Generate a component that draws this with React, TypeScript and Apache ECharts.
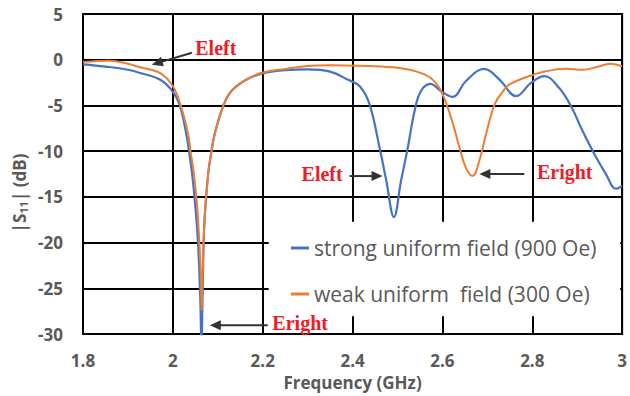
import React, { useEffect, useRef } from "react";
import * as echarts from "echarts";

const seriesNames = ["strong uniform field (900 Oe)", "weak uniform  field (300 Oe)"];
const seriesColors = ["#4472C4", "#ED7D31"];

const strongFreq = [1.8, 1.85, 1.9, 1.927, 1.971, 2.0, 2.016, 2.03, 2.036, 2.043, 2.05, 2.056, 2.061, 2.0635, 2.0665, 2.07, 2.0785, 2.086, 2.093, 2.112, 2.13, 2.164, 2.2, 2.25, 2.3, 2.35, 2.39, 2.416, 2.438, 2.46, 2.475, 2.492, 2.508, 2.523, 2.538, 2.552, 2.573, 2.597, 2.623, 2.652, 2.693, 2.727, 2.764, 2.797, 2.827, 2.86, 2.886, 2.912, 2.938, 2.964, 2.986, 3.0];
const strongS11 = [-0.5, -0.75, -1.1, -1.45, -2.17, -3.5, -5.07, -8.15, -10, -12.5, -16, -20, -26, -31, -25, -18, -12.5, -10, -8.15, -5.07, -3.44, -2.17, -1.5, -1.15, -1.05, -1.3, -2.2, -2.9, -4.9, -9.6, -13.2, -17.2, -13.2, -9.6, -5.6, -3.44, -2.65, -3.44, -4.06, -2.35, -1.0, -2.17, -3.98, -2.54, -1.8, -3.1, -5.07, -7.8, -10.3, -12.5, -14.1, -13.8];

const weakFreq = [1.8, 1.86, 1.9, 1.927, 1.971, 2.0, 2.018, 2.034, 2.0393, 2.047, 2.054, 2.059, 2.0625, 2.064, 2.066, 2.07, 2.0785, 2.086, 2.093, 2.112, 2.13, 2.164, 2.2, 2.25, 2.31, 2.35, 2.416, 2.489, 2.541, 2.574, 2.597, 2.619, 2.638, 2.652, 2.667, 2.682, 2.697, 2.716, 2.734, 2.749, 2.786, 2.83, 2.874, 2.912, 2.949, 2.975, 3.0];
const weakS11 = [-0.25, -0.1, -0.45, -0.83, -1.45, -2.9, -5.07, -8.15, -10, -12.5, -16, -20, -24, -27.4, -24, -18, -12.5, -10, -8.15, -5.07, -3.44, -2.17, -1.4, -1.0, -0.65, -0.6, -0.65, -0.83, -1.27, -2.0, -3.44, -6.3, -9.6, -11.8, -12.7, -11.05, -8.15, -4.9, -3.5, -2.7, -1.92, -1.27, -0.98, -1.1, -0.72, -0.43, -0.72];

const xMin = 1.8;
const xMax = 3.0;
const xStep = 0.2;
const yMin = -30;
const yMax = 5;
const yStep = 5;

const annotationTexts = ["Eleft", "Eleft", "Eright", "Eright"];
const annotationAt = [[2.0956, 1.3], [2.3322, -12.5], [2.8722, -12.28], [2.2833, -28.8]];
const arrowFrom = [[2.0422, 0.76], [2.3933, -12.72], [2.7822, -12.5], [2.2111, -29.02]];
const arrowTo = [[1.9533, -0.54], [2.4667, -12.72], [2.6822, -12.5], [2.0822, -29.02]];

const legendBoxCorner1 = [2.2133, -17.72];
const legendBoxCorner2 = [2.9956, -28.04];

const GRAY = "#595959";
const FONT = "'Open Sans', sans-serif";
const LINE = "#000000";

export default function App() {
  const ref = useRef<HTMLDivElement>(null);
  useEffect(() => {
    if (!ref.current) return;
    const chart = echarts.init(ref.current, undefined, { renderer: "svg" });
    const mk = (fs: number[], vs: number[]) => fs.map((f, i) => [f, vs[i]]);
    chart.setOption({
      animation: false,
      backgroundColor: "#fff",
      grid: {
        left: 83, right: 7, top: 14, bottom: 60,
        show: true, borderColor: LINE, borderWidth: 2, backgroundColor: "transparent",
      },
      xAxis: {
        type: "value", min: xMin, max: xMax, interval: xStep,
        axisLine: { show: true, onZero: false, lineStyle: { color: LINE, width: 2 } },
        axisTick: { show: false },
        splitLine: { show: true, lineStyle: { color: LINE, width: 2, opacity: 1 } },
        axisLabel: {
          margin: 18, color: GRAY, fontFamily: FONT, fontWeight: "bold", fontSize: 17,
          formatter: (v: number) => String(Math.round(v * 10) / 10),
        },
        name: "Frequency (GHz)", nameLocation: "middle", nameGap: 39,
        nameTextStyle: { color: GRAY, fontFamily: FONT, fontWeight: "bold", fontSize: 17 },
      },
      yAxis: {
        type: "value", min: yMin, max: yMax, interval: yStep,
        axisLine: { show: true, onZero: false, lineStyle: { color: LINE, width: 2 } },
        axisTick: { show: false },
        splitLine: { show: true, lineStyle: { color: LINE, width: 2, opacity: 1 } },
        axisLabel: { margin: 20, color: GRAY, fontFamily: FONT, fontWeight: "bold", fontSize: 17 },
      },
      legend: {
        orient: "vertical", left: 286, top: 232, itemWidth: 18, itemHeight: 3, itemGap: 24,
        icon: "rect", z: 10,
        textStyle: { fontFamily: FONT, fontSize: 21, color: GRAY, lineHeight: 22 },
        data: seriesNames,
      },
      series: [
        {
          name: seriesNames[0], type: "line", data: mk(strongFreq, strongS11),
          showSymbol: false, symbol: "none", smooth: 0.4,
          lineStyle: { color: seriesColors[0], width: 2.2 }, itemStyle: { color: seriesColors[0] },
        },
        {
          name: seriesNames[1], type: "line", data: mk(weakFreq, weakS11),
          showSymbol: false, symbol: "none", smooth: 0.4,
          lineStyle: { color: seriesColors[1], width: 2 }, itemStyle: { color: seriesColors[1] },
        },
      ],
    });

    const px = (p: number[]) => chart.convertToPixel({ gridIndex: 0 }, p) as number[];
    const graphics: any[] = [];
    const c1 = px(legendBoxCorner1);
    const c2 = px(legendBoxCorner2);
    graphics.push({
      type: "rect", z: 1, silent: true,
      shape: { x: c1[0], y: c1[1], width: c2[0] - c1[0], height: c2[1] - c1[1] },
      style: { fill: "#fff" },
    });
    graphics.push({
      type: "text", x: 19, y: 193, rotation: Math.PI / 2, z: 5,
      style: {
        text: "|S{sub|11}| (dB)", fill: GRAY, font: `bold 17px ${FONT}`,
        align: "center", verticalAlign: "middle",
        rich: { sub: { fontSize: 11, fontWeight: "bold", fontFamily: FONT, fill: GRAY, verticalAlign: "bottom", padding: [8, 0, 0, 0] } },
      },
    });
    annotationTexts.forEach((t, i) => {
      const p = px(annotationAt[i]);
      graphics.push({
        type: "text", x: p[0], y: p[1], z: 6,
        style: {
          text: t, fill: "#EE1C25", font: "bold 20px 'Liberation Serif', 'Times New Roman', serif",
          align: "center", verticalAlign: "middle",
        },
      });
      const a = px(arrowFrom[i]);
      const b = px(arrowTo[i]);
      const dx = b[0] - a[0];
      const dy = b[1] - a[1];
      const len = Math.sqrt(dx * dx + dy * dy);
      const ux = dx / len;
      const uy = dy / len;
      const head = 11;
      const hw = 5;
      const bx = b[0] - ux * head;
      const by = b[1] - uy * head;
      graphics.push({
        type: "line", z: 6,
        shape: { x1: a[0], y1: a[1], x2: bx + ux * 2, y2: by + uy * 2 },
        style: { stroke: "#333", lineWidth: 2 },
      });
      graphics.push({
        type: "polygon", z: 6,
        shape: { points: [[b[0], b[1]], [bx - uy * hw, by + ux * hw], [bx + uy * hw, by - ux * hw]] },
        style: { fill: "#333" },
      });
    });
    chart.setOption({ graphic: graphics });
    return () => chart.dispose();
  }, []);
  return <div ref={ref} style={{ width: 630, height: 396, position: "absolute", left: 0, top: 0 }} />;
}
